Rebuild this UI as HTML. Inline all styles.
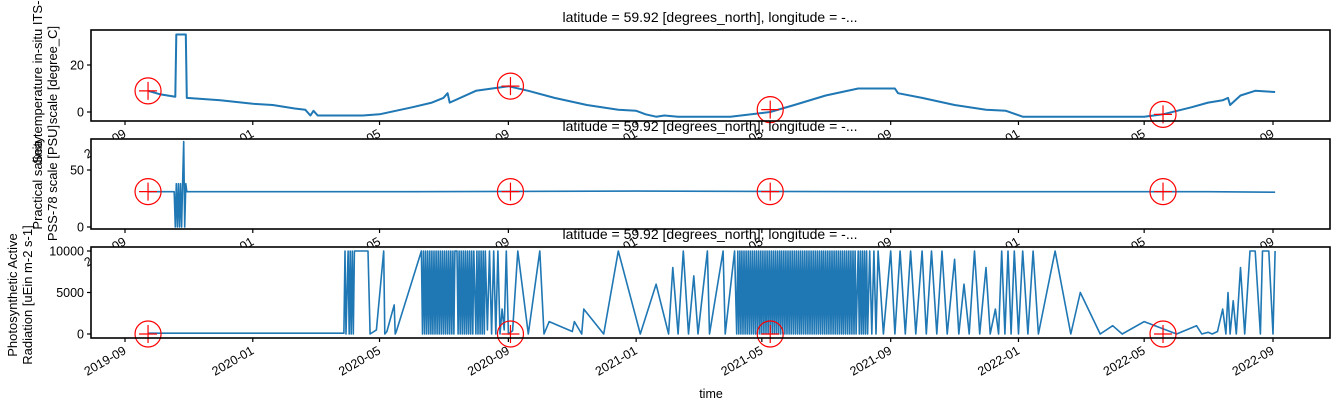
<!DOCTYPE html>
<html><head><meta charset="utf-8"><style>
body{margin:0;background:#fff;width:1341px;height:412px;overflow:hidden}
svg{font-family:"Liberation Sans",sans-serif}
</style></head><body>
<svg id="c" width="1341" height="412"></svg>
<script>
const tickDates=["2019-09-01","2020-01-01","2020-05-01","2020-09-01","2021-01-01","2021-05-01","2021-09-01","2022-01-01","2022-05-01","2022-09-01"];
const tickLabels=["2019-09","2020-01","2020-05","2020-09","2021-01","2021-05","2021-09","2022-01","2022-05","2022-09"];
const markerDates=["2019-09-23","2020-09-03","2021-05-09","2022-05-19"];
const tempMarkers=[9,11,1,-1];
const salMarkers=[31,31,31,31];
const parMarkers=[0,0,0,0];
const tempDates=["2019-09-23","2019-10-05","2019-10-19","2019-10-20","2019-10-29","2019-10-30","2019-12-01","2020-01-01","2020-01-20","2020-02-10","2020-02-20","2020-02-25","2020-02-28","2020-03-03","2020-04-15","2020-05-01","2020-06-01","2020-06-20","2020-07-01","2020-07-05","2020-07-07","2020-08-01","2020-09-01","2020-09-20","2020-10-15","2020-11-15","2020-12-15","2021-01-01","2021-01-10","2021-01-20","2021-01-28","2021-02-10","2021-04-01","2021-05-09","2021-06-01","2021-07-01","2021-08-01","2021-09-01","2021-09-05","2021-09-08","2021-10-01","2021-11-01","2021-12-01","2021-12-20","2022-01-05","2022-01-15","2022-05-01","2022-05-19","2022-06-15","2022-07-01","2022-07-15","2022-07-20","2022-07-22","2022-08-01","2022-08-15","2022-09-03"];
const tempValues=[9,7.5,6.5,33,33,6,5,3.5,3,1.5,1,-1.5,0.5,-1.5,-1.5,-1,2,4,6,8,4,9,11,9,6,3,1,0.5,-1,-2,-1.5,-2,-2,0,3,7,10,10,10,8,6,3,1,0.5,-2,-2,-2,-1,2,4,5,6,3,7,9,8.5];
const salDates=["2019-09-23","2019-10-18","2019-10-19","2019-10-20","2019-10-21","2019-10-22","2019-10-23","2019-10-24","2019-10-25","2019-10-26","2019-10-27","2019-10-28","2019-10-29","2019-10-30","2020-06-01","2021-01-01","2021-09-01","2022-07-01","2022-09-03"];
const salValues=[31,31,0,38,0,38,0,38,0,38,75,0,38,31,31,31.5,31,31,30.5];
const parDates=["2019-09-23","2020-03-28","2020-03-29","2020-03-30","2020-04-01","2020-04-02","2020-04-03","2020-04-04","2020-04-05","2020-04-06","2020-04-07","2020-04-08","2020-04-10","2020-04-12","2020-04-20","2020-04-22","2020-04-28","2020-05-05","2020-05-06","2020-05-08","2020-05-15","2020-05-16","2020-05-17","2020-06-10","2020-06-11","2020-06-12","2020-06-13","2020-06-14","2020-06-15","2020-06-16","2020-06-17","2020-06-18","2020-06-19","2020-06-20","2020-06-21","2020-06-22","2020-06-23","2020-06-24","2020-06-25","2020-06-26","2020-06-27","2020-06-28","2020-06-29","2020-06-30","2020-07-01","2020-07-02","2020-07-03","2020-07-04","2020-07-05","2020-07-06","2020-07-07","2020-07-08","2020-07-09","2020-07-10","2020-07-11","2020-07-12","2020-07-13","2020-07-14","2020-07-15","2020-07-16","2020-07-17","2020-07-18","2020-07-19","2020-07-20","2020-07-21","2020-07-22","2020-07-23","2020-07-24","2020-07-25","2020-07-26","2020-07-27","2020-07-28","2020-07-29","2020-07-30","2020-08-01","2020-08-02","2020-08-03","2020-08-04","2020-08-05","2020-08-06","2020-08-07","2020-08-08","2020-08-09","2020-08-10","2020-08-12","2020-08-14","2020-08-16","2020-08-18","2020-08-20","2020-08-22","2020-08-24","2020-08-26","2020-08-28","2020-08-30","2020-09-01","2020-09-05","2020-09-10","2020-09-20","2020-10-01","2020-10-05","2020-10-10","2020-11-01","2020-11-03","2020-11-10","2020-11-12","2020-12-01","2020-12-15","2021-01-05","2021-01-20","2021-02-01","2021-02-05","2021-02-10","2021-02-15","2021-02-20","2021-02-25","2021-03-01","2021-03-10","2021-03-12","2021-03-25","2021-03-27","2021-04-05","2021-04-07","2021-04-08","2021-04-09","2021-04-10","2021-04-11","2021-04-12","2021-04-13","2021-04-14","2021-04-15","2021-04-16","2021-04-17","2021-04-18","2021-04-19","2021-04-20","2021-04-21","2021-04-22","2021-04-23","2021-04-24","2021-04-25","2021-04-26","2021-04-27","2021-04-28","2021-04-29","2021-04-30","2021-05-01","2021-05-02","2021-05-03","2021-05-04","2021-05-05","2021-05-06","2021-05-07","2021-05-08","2021-05-09","2021-05-10","2021-05-11","2021-05-12","2021-05-13","2021-05-14","2021-05-15","2021-05-16","2021-05-17","2021-05-18","2021-05-19","2021-05-20","2021-05-21","2021-05-22","2021-05-23","2021-05-24","2021-05-25","2021-05-26","2021-05-27","2021-05-28","2021-05-29","2021-05-30","2021-05-31","2021-06-01","2021-06-02","2021-06-03","2021-06-04","2021-06-05","2021-06-06","2021-06-07","2021-06-08","2021-06-09","2021-06-10","2021-06-11","2021-06-12","2021-06-13","2021-06-14","2021-06-15","2021-06-16","2021-06-17","2021-06-18","2021-06-19","2021-06-20","2021-06-21","2021-06-22","2021-06-23","2021-06-24","2021-06-25","2021-06-26","2021-06-27","2021-06-28","2021-06-29","2021-06-30","2021-07-01","2021-07-02","2021-07-03","2021-07-04","2021-07-05","2021-07-06","2021-07-07","2021-07-08","2021-07-09","2021-07-10","2021-07-11","2021-07-12","2021-07-13","2021-07-14","2021-07-15","2021-07-16","2021-07-17","2021-07-18","2021-07-19","2021-07-20","2021-07-21","2021-07-22","2021-07-23","2021-07-24","2021-07-25","2021-07-26","2021-07-27","2021-07-28","2021-07-29","2021-07-30","2021-08-01","2021-08-02","2021-08-03","2021-08-04","2021-08-05","2021-08-06","2021-08-07","2021-08-08","2021-08-09","2021-08-10","2021-08-12","2021-08-14","2021-08-16","2021-08-18","2021-08-20","2021-08-25","2021-09-01","2021-09-05","2021-09-10","2021-09-15","2021-09-20","2021-09-25","2021-10-01","2021-10-05","2021-10-10","2021-10-15","2021-10-20","2021-10-25","2021-11-01","2021-11-05","2021-11-10","2021-11-15","2021-11-20","2021-11-25","2021-12-01","2021-12-05","2021-12-10","2021-12-13","2021-12-16","2021-12-19","2021-12-22","2021-12-25","2021-12-28","2022-01-01","2022-01-05","2022-01-10","2022-01-15","2022-01-20","2022-02-05","2022-02-20","2022-03-01","2022-03-20","2022-04-01","2022-04-10","2022-05-01","2022-06-01","2022-06-20","2022-06-25","2022-07-01","2022-07-05","2022-07-10","2022-07-15","2022-07-18","2022-07-20","2022-07-22","2022-07-25","2022-07-28","2022-08-01","2022-08-05","2022-08-10","2022-08-15","2022-08-20","2022-08-22","2022-08-25","2022-08-28","2022-09-01","2022-09-03"];
const parValues=[100,100,10000,0,10000,0,10000,0,10000,0,10000,10000,10000,10000,10000,0,500,10000,0,300,3500,0,300,10000,0,10000,0,10000,0,10000,0,10000,0,10000,0,10000,0,10000,0,10000,0,10000,0,10000,0,10000,0,10000,0,10000,0,10000,0,10000,0,10000,10000,10000,0,10000,0,10000,0,10000,0,10000,0,10000,0,10000,0,10000,0,10000,0,10000,0,10000,0,10000,0,10000,0,10000,500,10000,0,10000,0,10000,0,3000,500,10000,0,400,10000,0,10000,0,1500,300,1500,0,3000,0,10000,0,6000,0,8000,0,10000,0,7000,0,10000,0,10000,0,10000,0,10000,0,10000,0,10000,0,10000,0,10000,0,10000,0,10000,0,10000,0,10000,0,10000,0,10000,0,10000,0,10000,0,10000,0,10000,0,10000,0,10000,0,10000,0,10000,0,10000,0,10000,0,10000,0,10000,0,10000,0,10000,0,10000,0,10000,0,10000,0,10000,0,10000,0,10000,0,10000,0,10000,0,10000,0,10000,0,10000,0,10000,0,10000,0,10000,0,10000,0,10000,0,10000,0,10000,0,10000,0,10000,0,10000,0,10000,0,10000,0,10000,0,10000,0,10000,0,10000,0,10000,0,10000,0,10000,0,10000,0,10000,0,10000,0,10000,0,10000,0,10000,0,10000,0,10000,0,10000,0,10000,0,10000,0,10000,0,10000,0,10000,0,10000,0,10000,0,9000,0,6000,0,10000,0,8000,0,3000,0,10000,0,10000,0,10000,0,10000,0,10000,0,10000,0,5000,0,1000,0,1500,0,1000,0,200,0,300,3000,0,5000,0,4000,0,8000,0,10000,10000,0,10000,10000,10000,0,10000,10000,5000,10000,9500];

const NS="http://www.w3.org/2000/svg";
const svg=document.getElementById('c');
const X0=Date.parse("2019-09-01"),XL=125,PXD=1148/1096;
function xs(d){return XL+(Date.parse(d)-X0)/864e5*PXD;}
const left=91,right=1330;
function mk(t,a,p){const e=document.createElementNS(NS,t);for(const k in a)e.setAttribute(k,a[k]);(p||svg).appendChild(e);return e;}
const panels=[
 {top:30,bot:121,y0:112,yk:47/20,yt:[0,20],dates:tempDates,vals:tempValues,mv:tempMarkers,name:"temperature",yl:["Sea temperature in-situ ITS-90","scale [degree_C]"],ylx:[42,57],yly:75},
 {top:139,bot:229,y0:227,yk:57/50,yt:[0,50],dates:salDates,vals:salValues,mv:salMarkers,name:"salinity",yl:["Practical salinity","PSS-78 scale [PSU]"],ylx:[42,57],yly:183},
 {top:247,bot:338,y0:334,yk:83/10000,yt:[0,5000,10000],dates:parDates,vals:parValues,mv:parMarkers,name:"par",yl:["Photosynthetic Active","Radiation [uEin m-2 s-1]"],ylx:[17,32],yly:295}
];
panels.forEach((p,i)=>{
 const g=mk('g',{});
 
 
 mk('rect',{x:left,y:p.top,width:right-left,height:p.bot-p.top,fill:'#fff'},g);
 const ys=v=>p.y0-v*p.yk;
 const cp=mk('clipPath',{id:'cp'+i},g);mk('rect',{x:left,y:p.top,width:right-left,height:p.bot-p.top},cp);
 let d="";p.dates.forEach((dt,j)=>{d+=(j?"L":"M")+xs(dt).toFixed(1)+","+ys(p.vals[j]).toFixed(1);});
 const line=mk('path',{d:d,fill:'none',stroke:'#1f77b4','stroke-width':i==0?2:1.6,'stroke-linejoin':'round','clip-path':'url(#cp'+i+')'},g);
 
 
 markerDates.forEach((md,j)=>{
  const cx=xs(md),cy=ys(p.mv[j]);
  const m=mk('g',{},g);
  
  
  mk('circle',{cx:cx,cy:cy,r:13,fill:'none',stroke:'red','stroke-width':1.2},m);
  mk('path',{d:`M${cx-9},${cy}H${cx+9}M${cx},${cy-9}V${cy+9}`,stroke:'red','stroke-width':1.2},m);
 });
 mk('rect',{x:left,y:p.top,width:right-left,height:p.bot-p.top,fill:'none',stroke:'#000','stroke-width':1.6},g);
 p.yt.forEach(v=>{const y=ys(v);mk('line',{x1:left-4,x2:left,y1:y,y2:y,stroke:'#000','stroke-width':1.2},g);
  const t=mk('text',{x:left-7,y:y+4.5,'font-size':12.5,'text-anchor':'end'},g);t.textContent=v;});
 tickDates.forEach((td,j)=>{const x=xs(td);mk('line',{x1:x,x2:x,y1:p.bot,y2:p.bot+4,stroke:'#000','stroke-width':1.2},g);
  const t=mk('text',{x:x+2,y:p.bot+15,'font-size':12.5,'text-anchor':'end',transform:`rotate(-30 ${x+2} ${p.bot+15})`},g);t.textContent=tickLabels[j];
  });
 p.yl.forEach((s,k)=>{const t=mk('text',{x:p.ylx[k],y:p.yly,'font-size':13,'text-anchor':'middle',transform:`rotate(-90 ${p.ylx[k]} ${p.yly})`},g);t.textContent=s;
  });
 const tt=mk('text',{x:710,y:p.top-8,'font-size':14,'text-anchor':'middle'},g);
 tt.textContent="latitude = 59.92 [degrees_north], longitude = -...";
 
});
const xt=mk('text',{x:711,y:398,'font-size':12.5,'text-anchor':'middle'});xt.textContent="time";

</script>
</body></html>
